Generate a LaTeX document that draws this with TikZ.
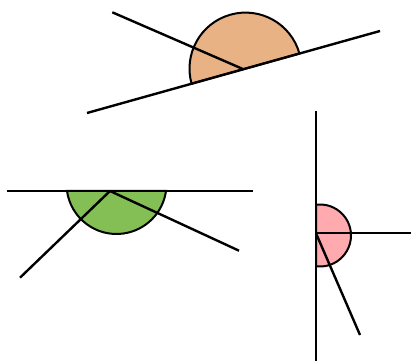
\documentclass[tikz,border=0pt]{standalone}
\usepackage{tikz}
\usetikzlibrary{calc}

\definecolor{sandfill}{RGB}{232,178,132}
\definecolor{leaffill}{RGB}{132,191,85}
\definecolor{rosefill}{RGB}{255,170,174}

\begin{document}
\begin{tikzpicture}[x=1pt, y=1pt,
  ray/.style={line width=2.4pt},
  sector/.style={line width=2pt, draw=black}]
  \useasboundingbox (0,0) rectangle (411,361);

  % Top figure (slanted line)
  \coordinate (a1) at (87,248);
  \coordinate (b1) at (380,330);
  \coordinate (v1) at (243.3,291.8);
  \coordinate (c1) at (245.5,292.4);
  \coordinate (e1) at (112.3,348.7);
  \filldraw[sector, fill=sandfill] ($(c1)+(15.6:56)$) arc[start angle=15.6, end angle=195.6, radius=56] -- cycle;
  \draw[ray] (a1) -- (b1);
  \draw[ray] (v1) -- (e1);

  % Left figure (horizontal line)
  \coordinate (a2) at (7,170);
  \coordinate (b2) at (253,170);
  \coordinate (v2) at (110,170);
  \coordinate (c2) at (116.5,177);
  \coordinate (e2) at (20,83.3);
  \coordinate (f2) at (239,110.3);
  \filldraw[sector, fill=leaffill] ($(c2)+(188:50)$) arc[start angle=188, end angle=352, radius=50] -- cycle;
  \draw[ray] (a2) -- (b2);
  \draw[ray] (v2) -- (e2);
  \draw[ray] (v2) -- (f2);

  % Right figure (vertical line)
  \coordinate (a3) at (316,250);
  \coordinate (b3) at (316,0);
  \coordinate (v3) at (316,127.7);
  \coordinate (c3) at (320,125.5);
  \coordinate (e3) at (411,127.7);
  \coordinate (f3) at (360,26);
  \filldraw[sector, fill=rosefill] ($(c3)+(97.4:31)$) arc[start angle=97.4, end angle=-97.4, radius=31] -- cycle;
  \draw[ray] (a3) -- (b3);
  \draw[ray] (v3) -- (e3);
  \draw[ray] (v3) -- (f3);
\end{tikzpicture}
\end{document}
